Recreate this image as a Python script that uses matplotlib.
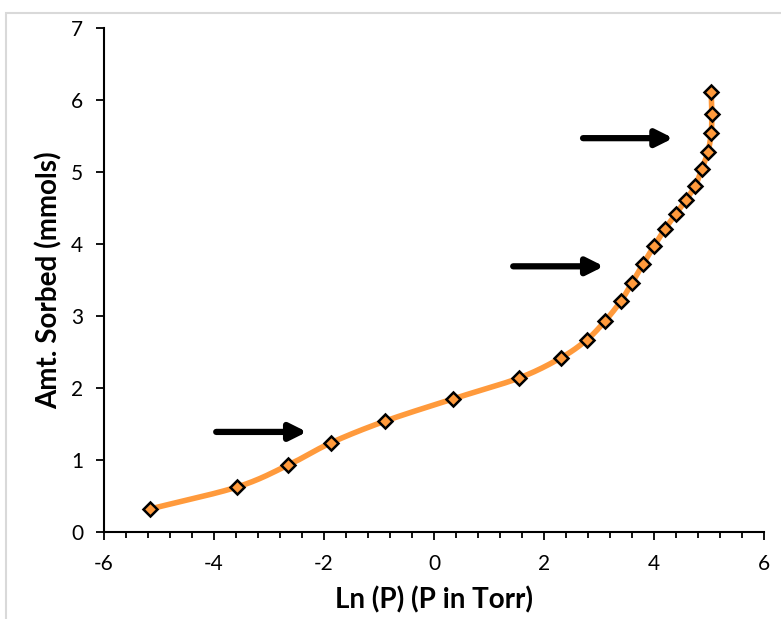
import numpy as np
import matplotlib
matplotlib.use("Agg")
import matplotlib.pyplot as plt
from matplotlib.patches import Rectangle

# Data
ln_p = [-5.16, -3.58, -2.65, -1.87, -0.89, 0.35, 1.55, 2.31, 2.78, 3.11, 3.40,
        3.60, 3.80, 4.00, 4.20, 4.40, 4.58, 4.75, 4.87, 4.98, 5.04, 5.05, 5.04]
amt = [0.32, 0.625, 0.93, 1.24, 1.54, 1.85, 2.14, 2.42, 2.67, 2.93, 3.21,
       3.46, 3.72, 3.97, 4.21, 4.42, 4.61, 4.81, 5.04, 5.28, 5.54, 5.81, 6.11]
x_ticks = [-6, -4, -2, 0, 2, 4, 6]
y_ticks = [0, 1, 2, 3, 4, 5, 6, 7]
arrows_start = [(-3.96, 1.39), (1.44, 3.69), (2.71, 5.47)]
arrows_end = [(-2.31, 1.39), (3.09, 3.69), (4.35, 5.47)]

plt.rcParams['font.family'] = ['Lato', 'DejaVu Sans']
plt.rcParams['axes.unicode_minus'] = False

W, H = 781, 619
fig = plt.figure(figsize=(W / 100, H / 100), dpi=100)
ax = fig.add_axes([104 / W, (H - 532) / H, (764 - 104) / W, (532 - 28) / H])

# outer chart border (light gray)
fig.patches.append(Rectangle((6 / W, -0.1), 1.2, (H - 13) / H + 0.1,
                             transform=fig.transFigure, fill=False,
                             edgecolor='#d9d9d9', linewidth=1.5))

ax.set_xlim(-6, 6)
ax.set_ylim(0, 7)

# Smooth curve (Catmull-Rom in display-scaled space)
px = np.array(ln_p) * 55.0
py = np.array(amt) * 72.0
P = np.column_stack([px, py])
P_ext = np.vstack([2 * P[0] - P[1], P, 2 * P[-1] - P[-2]])
curve = []
for i in range(1, len(P_ext) - 2):
    p0, p1, p2, p3 = P_ext[i - 1], P_ext[i], P_ext[i + 1], P_ext[i + 2]
    t = np.linspace(0, 1, 30)[:, None]
    seg = 0.5 * ((2 * p1) + (-p0 + p2) * t + (2 * p0 - 5 * p1 + 4 * p2 - p3) * t ** 2
                 + (-p0 + 3 * p1 - 3 * p2 + p3) * t ** 3)
    curve.append(seg)
curve = np.vstack(curve)
ax.plot(curve[:, 0] / 55.0, curve[:, 1] / 72.0, color='#ff9a3c', linewidth=4,
        solid_capstyle='round', zorder=2)
ax.plot(ln_p, amt, linestyle='none', marker='D', markersize=7.5,
        markerfacecolor='#ff9a3c', markeredgecolor='black', markeredgewidth=1.8,
        zorder=3)

for s, e in zip(arrows_start, arrows_end):
    ax.annotate('', xy=e, xytext=s,
                arrowprops=dict(arrowstyle='-|>,head_length=1.0,head_width=0.5',
                                color='black', lw=4.5, shrinkA=0, shrinkB=0),
                zorder=4)

ax.set_xticks(x_ticks)
ax.set_yticks(y_ticks)
ax.set_xticks(np.arange(-6, 6.01, 0.4), minor=True)
ax.tick_params(axis='x', which='major', direction='out', length=6, width=1.3,
               labelsize=15, pad=10)
ax.tick_params(axis='x', which='minor', direction='out', length=4, width=1.3)
ax.tick_params(axis='y', which='major', direction='out', length=6, width=1.3,
               labelsize=15, pad=9)
for side in ['top', 'right']:
    ax.spines[side].set_visible(False)
for side in ['left', 'bottom']:
    ax.spines[side].set_linewidth(1.5)

ax.set_xlabel('Ln (P) (P in Torr)', fontsize=20, fontweight='bold', labelpad=9)
ax.set_ylabel('Amt. Sorbed (mmols)', fontsize=20, fontweight='bold', labelpad=6)

fig.savefig('out.png', dpi=100)
